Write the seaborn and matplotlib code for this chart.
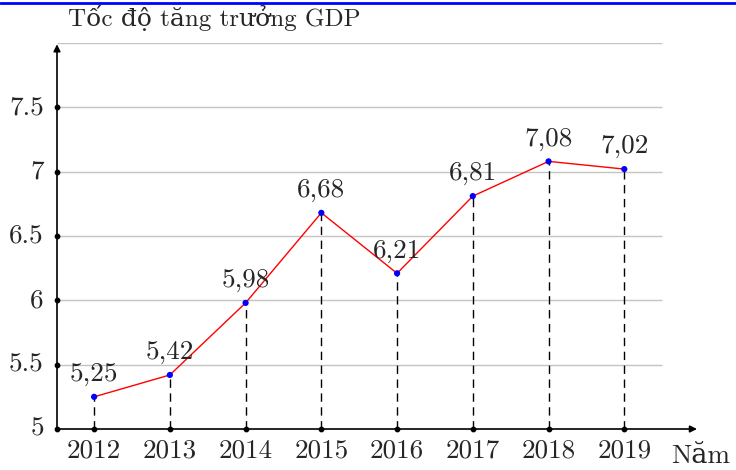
import numpy as np
import pandas as pd
import matplotlib
matplotlib.use("Agg")
import matplotlib.pyplot as plt
import seaborn as sns

years = [2012, 2013, 2014, 2015, 2016, 2017, 2018, 2019]
growth = [5.25, 5.42, 5.98, 6.68, 6.21, 6.81, 7.08, 7.02]
point_labels = ["5,25", "5,42", "5,98", "6,68", "6,21", "6,81", "7,08", "7,02"]
y_ticks = [5, 5.5, 6, 6.5, 7, 7.5]
y_tick_labels = ["5", "5.5", "6", "6.5", "7", "7.5"]
y_grid = [5.5, 6, 6.5, 7, 7.5, 8]

df = pd.DataFrame({"year": years, "gdp": growth})

sns.set_style("white")
plt.rcParams["font.family"] = ["cmr10", "DejaVu Serif"]
plt.rcParams["axes.formatter.use_mathtext"] = True

fs = 19.5
fig = plt.figure(figsize=(7.36, 4.70), dpi=100)
ax = fig.add_axes([57 / 736, 1 - 429 / 470, (697 - 57) / 736, (429 - 43) / 470])
x0, x1 = 2011.51, 2019.96
ax.set_xlim(x0, x1)
ax.set_ylim(5, 8)
for s in ax.spines.values():
    s.set_visible(False)
ax.set_xticks([])
ax.set_yticks([])

# grid
ax.hlines(y_grid, x0, 2019.5, color="#c4c4c4", lw=1, zorder=0)

# dashed drop lines
ax.vlines(years, 5, growth, color="black", lw=1, linestyles=(0, (6, 4)), zorder=1)

# axes with arrows
ax.annotate("", xy=(x1, 5), xytext=(x0, 5),
            arrowprops=dict(arrowstyle="-|>", color="black", lw=1.2,
                            mutation_scale=10, shrinkA=0, shrinkB=0),
            annotation_clip=False)
ax.annotate("", xy=(x0, 7.99), xytext=(x0, 5),
            arrowprops=dict(arrowstyle="-|>", color="black", lw=1.2,
                            mutation_scale=10, shrinkA=0, shrinkB=0),
            annotation_clip=False)

# tick dots
ax.scatter(years, [5] * len(years), s=10, color="black", zorder=4, clip_on=False)
ax.scatter([x0] * len(y_ticks), y_ticks, s=10, color="black", zorder=4, clip_on=False)

sns.lineplot(data=df, x="year", y="gdp", color="red", lw=1, ax=ax, zorder=2)
sns.scatterplot(data=df, x="year", y="gdp", color="blue", s=20, edgecolor="none",
                ax=ax, zorder=3)
ax.set_xlabel("")
ax.set_ylabel("")

for x, y, t in zip(years, growth, point_labels):
    ax.annotate(t, (x, y), xytext=(0, 11.5), textcoords="offset points",
                ha="center", va="baseline", fontsize=fs)

for x in years:
    ax.annotate(str(x), (x, 5), xytext=(0, -7), textcoords="offset points",
                ha="center", va="top", fontsize=fs)
for y, t in zip(y_ticks, y_tick_labels):
    ax.annotate(t, (x0, y), xytext=(-9.5, 0), textcoords="offset points",
                ha="right", va="center", fontsize=fs)

ax.annotate("Năm", (x1, 5), xytext=(-18.7, -24.5), textcoords="offset points",
            ha="left", va="baseline", fontsize=fs, annotation_clip=False)
fig.text(68 / 736, 1 - 26 / 470, "Tốc độ tăng trưởng GDP", ha="left", va="baseline",
         fontsize=18)

# top blue rule
fig.add_artist(plt.Line2D([0, 1], [1 - 3 / 470, 1 - 3 / 470], color="blue", lw=2))

fig.savefig("out.png", dpi=100)
